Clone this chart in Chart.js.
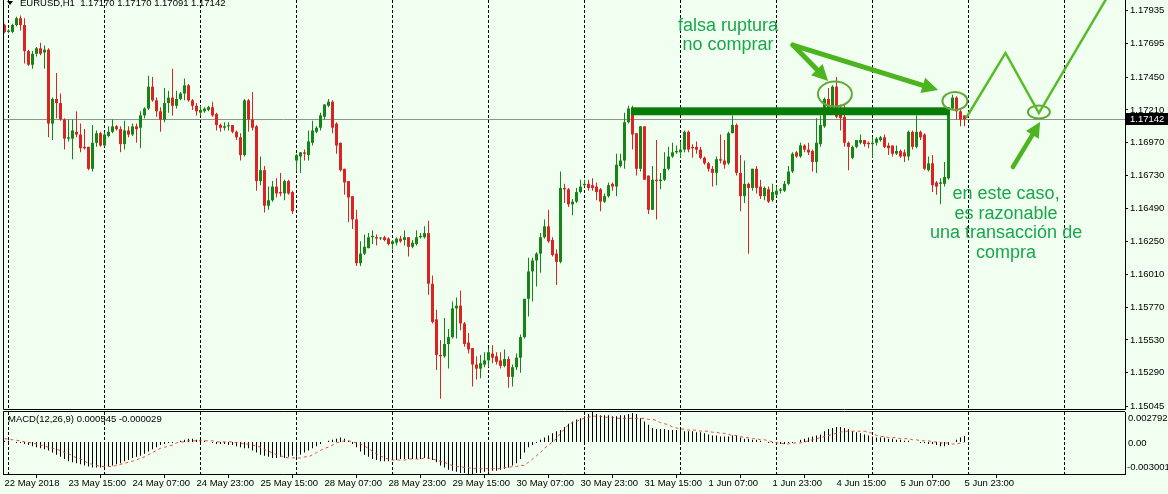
<!DOCTYPE html>
<html>
<head>
<meta charset="utf-8">
<script src="https://cdn.jsdelivr.net/npm/chart.js@4.4.1/dist/chart.umd.min.js"></script>
<style>
html, body { margin: 0; padding: 0; background: #f0fff0; }
#wrap { position: relative; width: 1168px; height: 494px; overflow: hidden; }
canvas { position: absolute; left: 0; }
#main { top: 0; }
#macd { top: 410px; }
</style>
</head>
<body>
<div id="wrap">
  <canvas id="main" width="1168" height="410"></canvas>
  <canvas id="macd" width="1168" height="84"></canvas>
</div>
<script>
// EURUSD H1, one value per hourly bar (22 May 23:00 .. 5 Jun 23:00)
var opens = [
1.1783,1.1778,1.1778,1.1783,1.1788,1.1783,1.1764,1.1754,1.1762,1.1766,
1.1763,1.1765,1.1711,1.1729,1.1726,1.1714,1.1700,1.1700,1.1705,1.1703,
1.1694,1.1694,1.1678,1.1697,1.1704,1.1695,1.1702,1.1705,1.1709,1.1707,
1.1696,1.1706,1.1703,1.1709,1.1708,1.1717,1.1722,1.1738,1.1728,1.1720,
1.1714,1.1726,1.1730,1.1724,1.1729,1.1733,1.1739,1.1728,1.1724,1.1719,
1.1720,1.1721,1.1723,1.1718,1.1710,1.1708,1.1709,1.1710,1.1705,1.1701,
1.1688,1.1728,1.1714,1.1709,1.1669,1.1677,1.1651,1.1655,1.1665,1.1661,
1.1660,1.1669,1.1661,1.1684,1.1687,1.1690,1.1688,1.1697,1.1705,1.1708,
1.1716,1.1724,1.1727,1.1711,1.1697,1.1678,1.1669,1.1658,1.1641,1.1609,
1.1616,1.1620,1.1628,1.1628,1.1627,1.1628,1.1627,1.1623,1.1624,1.1627,
1.1626,1.1628,1.1621,1.1623,1.1628,1.1628,1.1631,1.1594,1.1568,1.1542,
1.1541,1.1550,1.1555,1.1576,1.1578,1.1565,1.1551,1.1547,1.1535,1.1532,
1.1535,1.1538,1.1543,1.1541,1.1538,1.1534,1.1539,1.1526,1.1533,1.1540,
1.1555,1.1583,1.1603,1.1611,1.1616,1.1628,1.1636,1.1626,1.1616,1.1610,
1.1664,1.1663,1.1652,1.1654,1.1661,1.1666,1.1667,1.1666,1.1665,1.1663,
1.1654,1.1658,1.1667,1.1665,1.1680,1.1684,1.1712,1.1722,1.1704,1.1678,
1.1709,1.1673,1.1648,1.1670,1.1669,1.1670,1.1678,1.1687,1.1690,1.1690,
1.1692,1.1705,1.1694,1.1694,1.1692,1.1686,1.1682,1.1678,1.1675,1.1685,
1.1684,1.1682,1.1704,1.1710,1.1675,1.1658,1.1667,1.1664,1.1678,1.1665,
1.1658,1.1663,1.1655,1.1659,1.1662,1.1662,1.1667,1.1676,1.1690,1.1687,
1.1695,1.1692,1.1691,1.1683,1.1696,1.1709,1.1729,1.1721,1.1738,1.1718,
1.1716,1.1697,1.1686,1.1694,1.1697,1.1699,1.1697,1.1696,1.1697,1.1699,
1.1701,1.1695,1.1695,1.1689,1.1691,1.1690,1.1687,1.1705,1.1694,1.1705,
1.1703,1.1677,1.1682,1.1668,1.1667,1.1667,1.1671,1.1722,1.1730,1.1720,1.1717
];
var highs = [
1.1784,1.1780,1.1784,1.1789,1.1790,1.1788,1.1765,1.1764,1.1767,1.1770,
1.1768,1.1766,1.1730,1.1748,1.1733,1.1715,1.1714,1.1714,1.1720,1.1711,
1.1707,1.1694,1.1710,1.1706,1.1705,1.1705,1.1709,1.1714,1.1710,1.1709,
1.1713,1.1709,1.1711,1.1711,1.1720,1.1723,1.1746,1.1745,1.1730,1.1723,
1.1737,1.1735,1.1751,1.1735,1.1734,1.1744,1.1740,1.1729,1.1726,1.1724,
1.1723,1.1724,1.1727,1.1719,1.1711,1.1712,1.1712,1.1710,1.1706,1.1704,
1.1729,1.1729,1.1734,1.1710,1.1687,1.1680,1.1665,1.1669,1.1671,1.1675,
1.1670,1.1670,1.1662,1.1689,1.1690,1.1692,1.1706,1.1713,1.1709,1.1719,
1.1725,1.1729,1.1728,1.1712,1.1697,1.1678,1.1669,1.1658,1.1648,1.1625,
1.1630,1.1631,1.1633,1.1630,1.1628,1.1629,1.1628,1.1626,1.1628,1.1629,
1.1633,1.1628,1.1626,1.1633,1.1631,1.1636,1.1640,1.1600,1.1575,1.1553,
1.1569,1.1561,1.1581,1.1584,1.1589,1.1566,1.1558,1.1547,1.1541,1.1542,
1.1544,1.1547,1.1549,1.1544,1.1544,1.1546,1.1541,1.1535,1.1543,1.1557,
1.1583,1.1613,1.1613,1.1617,1.1631,1.1641,1.1648,1.1628,1.1619,1.1676,
1.1667,1.1664,1.1656,1.1664,1.1670,1.1670,1.1670,1.1671,1.1668,1.1664,
1.1660,1.1668,1.1668,1.1689,1.1689,1.1719,1.1724,1.1724,1.1704,1.1709,
1.1709,1.1673,1.1680,1.1699,1.1675,1.1690,1.1694,1.1697,1.1695,1.1698,
1.1706,1.1706,1.1696,1.1698,1.1694,1.1687,1.1683,1.1680,1.1687,1.1703,
1.1699,1.1705,1.1717,1.1711,1.1688,1.1684,1.1668,1.1678,1.1680,1.1670,
1.1665,1.1665,1.1667,1.1665,1.1664,1.1669,1.1680,1.1690,1.1691,1.1697,
1.1696,1.1697,1.1692,1.1715,1.1717,1.1730,1.1737,1.1739,1.1745,1.1725,
1.1725,1.1698,1.1695,1.1699,1.1703,1.1699,1.1698,1.1701,1.1701,1.1702,
1.1703,1.1697,1.1695,1.1695,1.1692,1.1692,1.1706,1.1706,1.1717,1.1706,
1.1704,1.1687,1.1688,1.1669,1.1671,1.1683,1.1723,1.1732,1.1731,1.1721,1.1717
];
var lows = [
1.1777,1.1777,1.1777,1.1782,1.1779,1.1755,1.1753,1.1751,1.1760,1.1761,
1.1751,1.1701,1.1699,1.1715,1.1713,1.1692,1.1698,1.1685,1.1701,1.1690,
1.1692,1.1677,1.1676,1.1694,1.1694,1.1694,1.1701,1.1704,1.1706,1.1690,
1.1692,1.1701,1.1702,1.1697,1.1693,1.1715,1.1721,1.1727,1.1716,1.1705,
1.1712,1.1719,1.1717,1.1722,1.1728,1.1728,1.1727,1.1721,1.1717,1.1717,
1.1719,1.1720,1.1716,1.1706,1.1705,1.1706,1.1706,1.1704,1.1699,1.1684,
1.1687,1.1705,1.1706,1.1662,1.1666,1.1646,1.1648,1.1654,1.1657,1.1658,
1.1655,1.1659,1.1645,1.1676,1.1675,1.1684,1.1684,1.1695,1.1704,1.1706,
1.1714,1.1723,1.1704,1.1689,1.1676,1.1659,1.1639,1.1634,1.1607,1.1607,
1.1615,1.1620,1.1623,1.1622,1.1626,1.1625,1.1622,1.1619,1.1622,1.1624,
1.1622,1.1614,1.1620,1.1622,1.1627,1.1627,1.1586,1.1565,1.1531,1.1510,
1.1540,1.1532,1.1554,1.1554,1.1560,1.1548,1.1543,1.1519,1.1524,1.1525,
1.1533,1.1533,1.1536,1.1535,1.1532,1.1533,1.1518,1.1519,1.1531,1.1529,
1.1554,1.1570,1.1581,1.1592,1.1602,1.1627,1.1624,1.1614,1.1593,1.1609,
1.1653,1.1650,1.1644,1.1653,1.1660,1.1665,1.1662,1.1662,1.1655,1.1647,
1.1653,1.1657,1.1662,1.1658,1.1679,1.1678,1.1711,1.1692,1.1673,1.1676,
1.1670,1.1645,1.1648,1.1641,1.1663,1.1669,1.1677,1.1686,1.1689,1.1686,
1.1690,1.1690,1.1686,1.1689,1.1685,1.1681,1.1676,1.1665,1.1666,1.1682,
1.1678,1.1681,1.1704,1.1673,1.1647,1.1653,1.1616,1.1662,1.1660,1.1656,
1.1655,1.1653,1.1654,1.1658,1.1660,1.1661,1.1666,1.1675,1.1686,1.1686,
1.1690,1.1688,1.1676,1.1675,1.1694,1.1708,1.1720,1.1720,1.1715,1.1706,
1.1694,1.1677,1.1685,1.1693,1.1696,1.1694,1.1693,1.1686,1.1695,1.1698,
1.1693,1.1688,1.1687,1.1688,1.1686,1.1683,1.1684,1.1692,1.1693,1.1699,
1.1677,1.1676,1.1661,1.1659,1.1652,1.1665,1.1670,1.1721,1.1714,1.1709,1.17091
];
var closes = [
1.1778,1.1779,1.1783,1.1788,1.1783,1.1764,1.1754,1.1762,1.1766,1.1762,
1.1765,1.1711,1.1729,1.1726,1.1714,1.1700,1.1701,1.1706,1.1703,1.1693,
1.1693,1.1678,1.1697,1.1704,1.1695,1.1703,1.1705,1.1709,1.1707,1.1696,
1.1706,1.1703,1.1709,1.1707,1.1717,1.1722,1.1738,1.1728,1.1720,1.1714,
1.1726,1.1730,1.1724,1.1729,1.1733,1.1739,1.1728,1.1724,1.1720,1.1721,
1.1722,1.1723,1.1717,1.1710,1.1708,1.1709,1.1709,1.1705,1.1701,1.1688,
1.1728,1.1714,1.1708,1.1669,1.1677,1.1651,1.1655,1.1665,1.1660,1.1660,
1.1669,1.1660,1.1647,1.1688,1.1690,1.1689,1.1698,1.1706,1.1708,1.1717,
1.1725,1.1727,1.1708,1.1695,1.1677,1.1668,1.1657,1.1641,1.1609,1.1616,
1.1621,1.1628,1.1629,1.1627,1.1627,1.1626,1.1623,1.1625,1.1627,1.1625,
1.1628,1.1621,1.1624,1.1628,1.1629,1.1631,1.1594,1.1566,1.1542,1.1541,
1.1550,1.1555,1.1576,1.1578,1.1565,1.1550,1.1546,1.1535,1.1532,1.1536,
1.1538,1.1544,1.1540,1.1537,1.1534,1.1539,1.1526,1.1533,1.1540,1.1555,
1.1583,1.1603,1.1611,1.1616,1.1628,1.1636,1.1625,1.1615,1.1610,1.1664,
1.1663,1.1652,1.1654,1.1661,1.1665,1.1667,1.1664,1.1664,1.1661,1.1654,
1.1658,1.1666,1.1665,1.1681,1.1684,1.1712,1.1722,1.1703,1.1678,1.1709,
1.1670,1.1648,1.1670,1.1669,1.1670,1.1678,1.1687,1.1690,1.1691,1.1692,
1.1705,1.1692,1.1693,1.1692,1.1686,1.1682,1.1678,1.1675,1.1685,1.1684,
1.1681,1.1704,1.1710,1.1675,1.1658,1.1667,1.1664,1.1678,1.1664,1.1658,
1.1664,1.1654,1.1661,1.1662,1.1663,1.1667,1.1676,1.1689,1.1687,1.1695,
1.1692,1.1690,1.1683,1.1697,1.1710,1.1729,1.1721,1.1738,1.1716,1.1715,
1.1697,1.1694,1.1694,1.1699,1.1699,1.1696,1.1696,1.1697,1.1700,1.1701,
1.1694,1.1693,1.1689,1.1691,1.1687,1.1687,1.1705,1.1694,1.1705,1.1701,
1.1678,1.1682,1.1666,1.1665,1.1668,1.1672,1.1722,1.1730,1.1720,1.1714,1.17142
];

// MACD(12,26,9) in units of 0.0001
var macdUnit = 0.0001;
var macdHist = [
1,1,0,-1,-1,
-2,-3,-4,-5,-6,-7,-8,
-10,-12,-14,-16,-18,-19,-20,-21,-22,
-23,-24,-24,-24,-24,
-23,-22,-21,-20,-18,-17,-15,-14,-13,
-11,-9,-7,-5,-3,
-2,-1,-1,0,1,
2,3,3,2,2,
1,0,-1,-2,-2,-2,-3,-3,
-4,-5,-6,-6,-8,-10,-12,
-13,-14,-15,-15,-14,-15,-14,-13,-14,
-12,-10,-8,-6,-4,-2,
0,1,2,3,4,3,1,
-2,-5,-9,-12,-14,-16,-17,-18,-18,-18,
-17,-17,-16,-16,-16,-16,-16,-16,-15,-16,-17,
-19,-22,-24,-26,-27,-28,-29,-29,-30,-30,-29,-29,-28,-28,
-27,-27,-26,-25,-24,-22,-20,
-16,-10,-5,-3,-1,
2,4,6,8,10,11,
14,17,19,21,22,24,
26,27.9,26,25,25,25,24,24,25,25,26,27,26,
22,19,16,
13,12,12,12,11,11,11,11,
10,10,10,9,9,8,
7,6,6,5,5,5,6,6,
4,3,3,2,2,
1,0,-1,-1,-2,-2,-2,-1,-1,0,
2,3,4,5,6,7,
10,12,13,14,14,13,12,
10,9,8,7,6,
5,4,4,4,3,3,2,2,1,
1,0,0,-1,-1,-2,-2,-3,-4,-4,-3,0,
2,4,5.45
];
var macdSignal = [
3,2.5,2,1.5,1,0,
-0.5,-1,-2,-3,-4,
-5,-6,-7,-8,-10,-11,
-13,-15,-16,-18,-20,
-21,-22,-23,-23,-23,-23,
-22,-21,-20,-19,-18,-17,
-15,-14,-12,-10,-8,-6,
-5,-4,-3,-1,0,
0,1,1,1,1,
1,1,1,0,0,0,0,0,
-1,-1,-2,-2,-3,-4,-5,
-7,-9,-10,-12,-13,-14,-15,
-15,-15,-15,-14,-14,
-12,-10,-8,-6,-5,
-3,-1,0,1,
1,0,-1,-2,
-4,-6,-9,-11,-13,-15,-16,
-17,-17,-17,-17,-16,-16,-16,-16,-15,-15,
-16,-17,-18,-19,-21,-22,
-23,-23,-24,-24,-25,
-25,-25,-25,-25,-25,-25,-25,-24,-24,
-23,-23,-22,-22,
-19,-16,-13,-10,
-6,-3,0,3,
8,12,16,
18,19,21,22,
23,24,24,24,23,
23,23,22,22,22,
22,22,22,22,22,
21,21,20,
18,17,16,14,13,
12,12,11,11,11,10,10,10,
9,9,8,8,7,6,6,5,
4,4,3,3,2,2,1,
0,-1,-1,-2,-2,-1,-1,-1,
0,1,2,3,4,5,
6,7,8,9,10,
10,10,10,10,10,
9,8,6,
5,5,4,4,4,3,3,3,
2,2,1,1,1,0,0,
-1,-1,-1,-2,-2,-1,-0.3
];

var priceTicks = [1.17935, 1.17695, 1.17450, 1.17210, 1.16970, 1.16730, 1.16490, 1.16250, 1.16010, 1.15770, 1.15530, 1.15290, 1.15045];
var timeTicks = ['22 May 2018', '23 May 15:00', '24 May 07:00', '24 May 23:00', '25 May 15:00', '28 May 07:00', '28 May 23:00', '29 May 15:00',
                 '30 May 07:00', '30 May 23:00', '31 May 15:00', '1 Jun 07:00', '1 Jun 23:00', '4 Jun 15:00', '5 Jun 07:00', '5 Jun 23:00'];
var tickStep = 16;
var dayStarts = [1, 25, 49, 73, 97, 121, 145, 169, 193, 217, 241, 265];
var macdTicks = [0.002792, 0, -0.003001];
var macdTickLabels = ['0.002792', '0.00', '-0.003001'];
var lastPrice = 1.17142;

// hand drawn marks on the chart, in bar index / price
var zone = { from: 157, to: 236, top: 1.17229, bottom: 1.17171 };
var arrowTail = { i: 197.1, p: 1.17684 };
var arrowTips = [{ i: 205.9, p: 1.17421 }, { i: 233.4, p: 1.17355 }];
var buyArrow = { from: { i: 252.1, p: 1.16793 }, to: { i: 258.9, p: 1.17122 } };
var circles = [{ i: 207.6, p: 1.17326, rx: 17, ry: 12.5 }, { i: 237.6, p: 1.17275, rx: 12.5, ry: 9 }, { i: 258.6, p: 1.17195, rx: 11, ry: 6.5 }];
var scenario = [{ i: 240.4, p: 1.17151 }, { i: 250.25, p: 1.17626 }, { i: 258.6, p: 1.17187 }, { i: 275.4, p: 1.18020 }];
var note1 = { i: 180.9, p: 1.17789, lines: ['falsa ruptura', 'no comprar'] };
var note2 = { i: 250.4, p: 1.16559, lines: ['en este caso,', 'es razonable', 'una transacción de', 'compra'] };

var xMin = -0.375, xMax = 280.125;
var bull = '#168516', bear = '#dc2222';
var font = "'Liberation Sans', Arial, sans-serif";

Chart.defaults.font.family = font;
Chart.defaults.font.size = 9.5;
Chart.defaults.color = '#000';

function colorAt(i) { return closes[i] >= opens[i] ? bull : bear; }

// keep the axis from pushing the plot area inwards
function noPad(s) { s.paddingTop = 0; s.paddingBottom = 0; s.paddingLeft = 0; s.paddingRight = 0; }

function arrow(ctx, x1, y1, x2, y2, w, hl, hw) {
  var ang = Math.atan2(y2 - y1, x2 - x1);
  var bx = x2 - hl * Math.cos(ang), by = y2 - hl * Math.sin(ang);
  ctx.lineWidth = w;
  ctx.beginPath(); ctx.moveTo(x1, y1); ctx.lineTo(bx, by); ctx.stroke();
  ctx.beginPath(); ctx.moveTo(x2, y2);
  ctx.lineTo(bx + hw * Math.sin(ang), by - hw * Math.cos(ang));
  ctx.lineTo(bx - hw * Math.sin(ang), by + hw * Math.cos(ang));
  ctx.closePath(); ctx.fill();
}

function vGrid(chart) {
  var ctx = chart.ctx, a = chart.chartArea, xs = chart.scales.x;
  ctx.save();
  ctx.strokeStyle = '#000'; ctx.lineWidth = 1; ctx.setLineDash([3, 2]);
  dayStarts.forEach(function (d) {
    var x = Math.floor(xs.getPixelForValue(d)) + 0.5;
    ctx.beginPath(); ctx.moveTo(x, a.top); ctx.lineTo(x, a.bottom); ctx.stroke();
  });
  ctx.restore();
}

var mainDecor = {
  id: 'mainDecor',
  beforeDatasetsDraw: function (chart) {
    vGrid(chart);
    var ctx = chart.ctx, a = chart.chartArea, ys = chart.scales.y;
    var y = Math.round(ys.getPixelForValue(lastPrice)) + 0.5;
    ctx.save();
    ctx.strokeStyle = '#8a968a'; ctx.lineWidth = 1;
    ctx.beginPath(); ctx.moveTo(a.left, y); ctx.lineTo(a.right, y); ctx.stroke();
    ctx.restore();
  },
  afterDatasetsDraw: function (chart) {
    var ctx = chart.ctx, a = chart.chartArea, xs = chart.scales.x, ys = chart.scales.y;
    function X(i) { return xs.getPixelForValue(i); }
    function Y(p) { return ys.getPixelForValue(p); }
    ctx.save();
    ctx.beginPath(); ctx.rect(a.left, a.top, a.right - a.left, a.bottom - a.top); ctx.clip();

    // thick resistance bar
    ctx.fillStyle = '#077c07';
    ctx.fillRect(X(zone.from) - 1.5, Y(zone.top), X(zone.to) - X(zone.from) + 3, Y(zone.bottom) - Y(zone.top));

    // circles
    ctx.strokeStyle = '#62aa36'; ctx.lineWidth = 2;
    circles.forEach(function (c) {
      ctx.beginPath(); ctx.ellipse(X(c.i), Y(c.p), c.rx, c.ry, 0, 0, Math.PI * 2); ctx.stroke();
    });

    // arrows
    ctx.strokeStyle = '#4cb41e'; ctx.fillStyle = '#4cb41e'; ctx.lineCap = 'round';
    arrowTips.forEach(function (t) {
      arrow(ctx, X(arrowTail.i), Y(arrowTail.p), X(t.i), Y(t.p), 5, 16, 8);
    });
    arrow(ctx, X(buyArrow.from.i), Y(buyArrow.from.p), X(buyArrow.to.i), Y(buyArrow.to.p), 4.5, 15, 7.5);

    // expected path
    ctx.strokeStyle = '#58bb2a'; ctx.lineWidth = 2.5; ctx.lineCap = 'butt'; ctx.lineJoin = 'miter';
    ctx.beginPath();
    scenario.forEach(function (pt, k) {
      if (k === 0) ctx.moveTo(X(pt.i), Y(pt.p)); else ctx.lineTo(X(pt.i), Y(pt.p));
    });
    ctx.stroke();

    // notes
    ctx.fillStyle = '#1ba64c'; ctx.font = '18px ' + font;
    ctx.textAlign = 'center'; ctx.textBaseline = 'alphabetic';
    [note1, note2].forEach(function (n) {
      n.lines.forEach(function (t, k) { ctx.fillText(t, X(n.i), Y(n.p) + k * 19.6); });
    });
    ctx.restore();
  },
  afterDraw: function (chart) {
    var ctx = chart.ctx, a = chart.chartArea, ys = chart.scales.y;
    ctx.save();
    ctx.strokeStyle = '#000'; ctx.lineWidth = 1;
    ctx.beginPath();
    ctx.moveTo(a.left + 0.5, a.top); ctx.lineTo(a.left + 0.5, a.bottom + 0.5);
    ctx.lineTo(a.right, a.bottom + 0.5);
    ctx.stroke();

    // title
    ctx.fillStyle = '#000';
    ctx.beginPath(); ctx.moveTo(7, 1); ctx.lineTo(13, 1); ctx.lineTo(10, 5); ctx.closePath(); ctx.fill();
    ctx.font = '9.5px ' + font; ctx.textAlign = 'left'; ctx.textBaseline = 'alphabetic';
    ctx.fillText('EURUSD,H1  1.17170 1.17170 1.17091 1.17142', 20, 6);

    // current price label
    var y = ys.getPixelForValue(lastPrice);
    ctx.fillStyle = '#000';
    ctx.fillRect(a.right, Math.round(y) - 6, chart.width - a.right, 12);
    ctx.fillStyle = '#fff'; ctx.textBaseline = 'middle';
    ctx.fillText(lastPrice.toFixed(5), a.right + 5, Math.round(y) + 0.5);
    ctx.restore();
  }
};

var macdDecor = {
  id: 'macdDecor',
  beforeDatasetsDraw: function (chart) { vGrid(chart); },
  afterDraw: function (chart) {
    var ctx = chart.ctx, a = chart.chartArea;
    ctx.save();
    ctx.strokeStyle = '#000'; ctx.lineWidth = 1;
    ctx.beginPath();
    ctx.moveTo(a.left + 0.5, a.bottom); ctx.lineTo(a.left + 0.5, a.top - 0.5);
    ctx.lineTo(a.right, a.top - 0.5);
    ctx.stroke();
    ctx.fillStyle = '#000'; ctx.font = '9.5px ' + font;
    ctx.textAlign = 'left'; ctx.textBaseline = 'middle';
    ctx.fillText('MACD(12,26,9) 0.000545 -0.000029', 8, a.top + 7.5);
    var offs = [6, 1, -7];
    macdTicks.forEach(function (v, k) {
      var y = chart.scales.y.getPixelForValue(v) + offs[k];
      ctx.fillText(macdTickLabels[k], a.right + (v < 0 ? 2 : 3), y);
    });
    ctx.restore();
  }
};

var mainChart = new Chart(document.getElementById('main').getContext('2d'), {
  type: 'bar',
  data: {
    datasets: [{
      label: 'wick',
      data: closes.map(function (c, i) { return { x: i, y: [lows[i], highs[i]] }; }),
      backgroundColor: closes.map(function (c, i) { return colorAt(i); }),
      barThickness: 1,
      grouped: false,
      inflateAmount: 0
    }, {
      label: 'body',
      data: closes.map(function (c, i) { return { x: i, y: [opens[i], closes[i]] }; }),
      backgroundColor: closes.map(function (c, i) { return colorAt(i); }),
      barThickness: 3,
      minBarLength: 1,
      grouped: false,
      inflateAmount: 0
    }]
  },
  options: {
    responsive: false,
    animation: false,
    devicePixelRatio: 1,
    layout: { padding: { left: 3, right: 0, top: 0, bottom: 1 }, autoPadding: false },
    plugins: { legend: { display: false }, tooltip: { enabled: false } },
    scales: {
      x: { type: 'linear', min: xMin, max: xMax, bounds: 'data', display: false, offset: false },
      y: {
        position: 'right',
        min: 1.15025,
        max: 1.18013,
        bounds: 'data',
        afterFit: function (s) { s.width = 43; noPad(s); },
        afterBuildTicks: function (s) { s.ticks = priceTicks.map(function (v) { return { value: v }; }); },
        ticks: {
          autoSkip: false,
          padding: 2,
          color: '#000',
          callback: function (v) { return v.toFixed(5); }
        },
        grid: { drawOnChartArea: false, drawTicks: true, tickLength: 3, color: '#000' },
        border: { display: true, color: '#000' }
      }
    }
  },
  plugins: [mainDecor]
});

var macdChart = new Chart(document.getElementById('macd').getContext('2d'), {
  type: 'bar',
  data: {
    datasets: [{
      type: 'line',
      label: 'signal',
      data: macdSignal.map(function (v, i) { return { x: i, y: v * macdUnit }; }),
      borderColor: '#e0503c',
      borderWidth: 1,
      borderDash: [3, 3],
      pointRadius: 0,
      tension: 0
    }, {
      label: 'macd',
      data: macdHist.map(function (v, i) { return { x: i, y: v * macdUnit }; }),
      backgroundColor: '#000',
      barThickness: 1,
      grouped: false,
      inflateAmount: 0
    }]
  },
  options: {
    responsive: false,
    animation: false,
    devicePixelRatio: 1,
    layout: { padding: { left: 3, right: 0, top: 2, bottom: 0 }, autoPadding: false },
    plugins: { legend: { display: false }, tooltip: { enabled: false } },
    scales: {
      x: {
        type: 'linear', min: xMin, max: xMax, bounds: 'data', offset: false,
        afterFit: function (s) { s.height = 20; noPad(s); },
        afterBuildTicks: function (s) { s.ticks = timeTicks.map(function (t, k) { return { value: k * tickStep }; }); },
        ticks: {
          autoSkip: false, maxRotation: 0, minRotation: 0, align: 'start', padding: 0, color: '#000',
          callback: function (v) { return timeTicks[Math.round(v / tickStep)]; }
        },
        grid: { drawOnChartArea: false, drawTicks: true, tickLength: 4, color: '#000' },
        border: { display: true, color: '#000' }
      },
      y: {
        position: 'right',
        min: -0.003001,
        max: 0.002792,
        bounds: 'data',
        afterFit: function (s) { s.width = 43; noPad(s); },
        ticks: { display: false },
        grid: { drawOnChartArea: false, drawTicks: false },
        border: { display: true, color: '#000' }
      }
    }
  },
  plugins: [macdDecor]
});
</script>
</body>
</html>
